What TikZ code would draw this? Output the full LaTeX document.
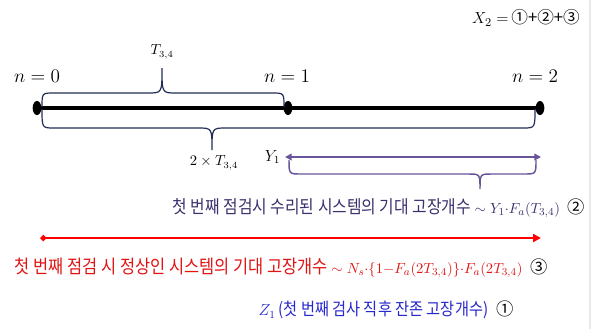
\documentclass[tikz,border=0pt]{standalone}
\usepackage{fontspec}
\setmainfont{Liberation Serif}
\newfontfamily\kr[FakeStretch=0.88]{Noto Sans CJK KR}
\newfontfamily\krn{Noto Sans CJK KR}
\definecolor{bracenavy}{RGB}{35,45,85}
\definecolor{repairpurple}{RGB}{105,85,155}
\definecolor{purpletext}{RGB}{58,50,110}
\definecolor{alarmred}{RGB}{255,0,0}
\definecolor{redtext}{RGB}{225,20,20}
\definecolor{remainblue}{RGB}{40,40,205}
\definecolor{edgegray}{RGB}{232,232,236}
\usepackage{tikz}
\usetikzlibrary{calc, positioning, arrows.meta, shapes.geometric}
\usepackage{amsmath,amssymb}

\begin{document}
\begin{tikzpicture}[x=0.75pt, y=-0.75pt,
    tickdot/.style={ellipse, fill=black, inner sep=0pt, minimum width=6.5pt, minimum height=10.5pt},
    nlabel/.style={font=\fontsize{14}{16}\selectfont},
    bracepath/.style={bracenavy, line width=0.9pt},
    spanlabel/.style={font=\fontsize{10.5}{12}\selectfont}]
    \useasboundingbox (0,0) rectangle (605,329);
    \fill[white] (0,0) rectangle (605,329);
    \draw[edgegray, line width=0.8pt] (590,0) -- (590,329);

    % time axis
    \node[tickdot] (d0) at (37,108) {};
    \node[tickdot] (d1) at (288,108) {};
    \node[tickdot] (d2) at (540,108) {};
    \draw[line width=3pt] (d0.center) -- (d2.center);
    \node[nlabel] (n0) at (37,76) {$n = 0$};
    \node[nlabel] (n1) at (287,76) {$n = 1$};
    \node[nlabel] (n2) at (535,76) {$n = 2$};
    \node[font=\fontsize{12.5}{14}\selectfont] (xsum) at (526,18) {$X_2 = $\,{\krn ①+②+③}};

    % braces
    \draw[bracepath] (42,107) .. controls (42,93) .. (54,93) -- (148,93)
        .. controls (162,93) .. (162,68) .. controls (162,93) .. (176,93)
        -- (272,93) .. controls (284,93) .. (284,107);
    \node[spanlabel] (tlab) at (162,52) {$T_{3,4}$};
    \draw[bracepath] (42,109) .. controls (42,128) .. (54,128) -- (198,128)
        .. controls (212,128) .. (212,150) .. controls (212,128) .. (226,128)
        -- (523,128) .. controls (535,128) .. (535,109);
    \node[spanlabel] (twotlab) at (214,163) {$2\times T_{3,4}$};

    % repaired systems
    \coordinate (ys) at (285,157);
    \coordinate (ye) at (541,157);
    \node[font=\fontsize{12}{14}\selectfont, anchor=east] (ylab) at (ys) {$Y_1$};
    \draw[repairpurple, line width=1.5pt, {Triangle[length=5pt,width=5pt]}-{Triangle[length=5pt,width=5pt]}] (ys) -- (ye);
    \draw[repairpurple, line width=1.1pt] (289,160) .. controls (289,174) .. (301,174) -- (468,174)
        .. controls (480,174) .. (480,189) .. controls (480,174) .. (492,174)
        -- (524,174) .. controls (536,174) .. (536,160);
    \node[anchor=west, text=purpletext, font=\fontsize{11.3}{13}\selectfont] (repline) at (168,208)
        {{\kr\fontsize{13.5}{15}\selectfont 첫 번째 점검시 수리된 시스템의 기대 고장개수} $\sim Y_1{\cdot}F_a(T_{3,4})$\enspace\textcolor{black}{\krn\fontsize{13}{15}\selectfont ②}};

    % healthy systems
    \coordinate (rs) at (40,238);
    \coordinate (re) at (541,238);
    \draw[alarmred, line width=1.8pt, {Diamond[length=5pt,width=5pt]}-{Triangle[length=6pt,width=6pt]}] (rs) -- (re);
    \node[anchor=west, text=redtext, font=\fontsize{11.3}{13}\selectfont] (okline) at (10,268)
        {{\kr\fontsize{14}{16}\selectfont 첫 번째 점검 시 정상인 시스템의 기대 고장개수} $\sim N_s{\cdot}\{1{-}F_a(2T_{3,4})\}{\cdot}F_a(2T_{3,4})$\enspace\textcolor{black}{\krn\fontsize{13}{15}\selectfont ③}};

    % remaining failures
    \node[anchor=west, text=remainblue, font=\fontsize{12}{14}\selectfont] (zline) at (254,310)
        {$Z_1$\,{\kr\fontsize{13}{15}\selectfont (첫 번째 검사 직후 잔존 고장개수)}\enspace\textcolor{black}{\krn\fontsize{13}{15}\selectfont ①}};
\end{tikzpicture}
\end{document}
